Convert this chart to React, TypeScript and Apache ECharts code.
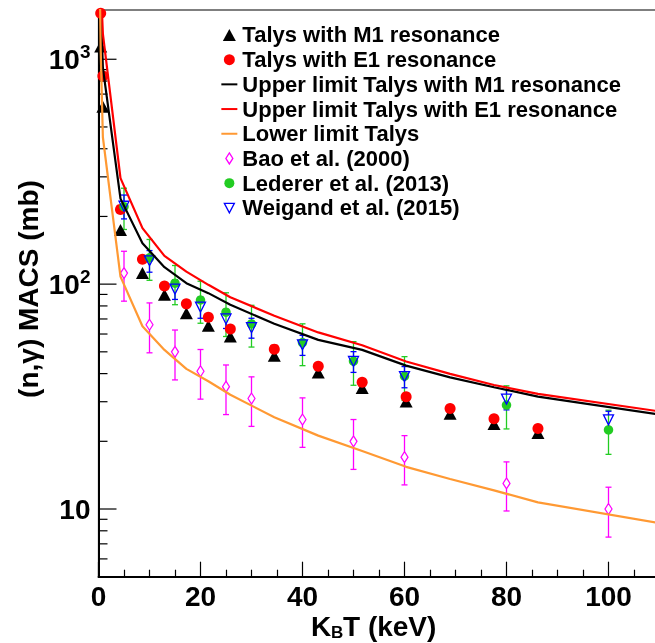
import React, { useEffect, useRef } from 'react';
import * as echarts from 'echarts';

// ---- data ----
const tempKeV = [0.086, 0.43, 0.86, 4.31, 8.62, 12.93, 17.23, 21.54, 25.85, 34.47, 43.09, 51.70, 60.32, 68.94, 77.55, 86.17, 129.26];
const upperM1 = [7000, 1750, 915, 240, 152, 119, 101, 91.2, 80.9, 66.7, 56.5, 51, 43.4, 38.5, 34.8, 31.6, 22.7];
const upperE1 = [10000, 2200, 1298, 296, 177.5, 133.6, 113.7, 99.3, 87.5, 72.3, 61, 53.5, 45.3, 39.9, 35.6, 32.5, 23.5];
const lowerLimit = [4000, 1100, 450, 108, 65, 51, 42, 37, 32.2, 25.6, 21.2, 18.1, 15.4, 13.6, 12.1, 10.7, 7.3];

const talysKeV = [0.43, 0.86, 4.31, 8.62, 12.93, 17.23, 21.54, 25.85, 34.47, 43.09, 51.70, 60.32, 68.94, 77.55, 86.17];
const talysM1 = [1140, 615, 174, 112, 89.6, 74.3, 65.3, 58.5, 48.0, 40.5, 34.5, 30.1, 26.5, 23.9, 21.8];
const talysE1 = [1600, 843, 215, 129, 98.2, 81.7, 71.3, 63.1, 51.4, 43.1, 36.6, 31.6, 28.0, 25.2, 22.8];

const expKeV = [5, 10, 15, 20, 25, 30, 40, 50, 60, 80, 100];
const baoMacs = [112, 66, 50, 41, 35, 31, 25, 20, 17, 13, 10];
const baoErr = [28, 16.5, 12.5, 10.2, 8.7, 7.7, 6.2, 5, 4.2, 3.2, 2.5];
const ledererMacs = [221, 131, 101, 85, 75, 66.5, 55, 45.5, 39, 29, 22.5];
const ledererErr = [46, 27, 20, 18, 16.5, 14, 11.6, 10, 8.6, 6.3, 5];
const weigandMacs = [222, 127, 95, 79, 70, 64, 53.7, 45.3, 38.8, 30.8, 24.9];
const weigandErr = [27, 14, 9.5, 8.5, 6.5, 6.5, 5.5, 4.8, 4.2, 3.2, 2.3];

const yMajorTicks = [10, 100, 1000];
const yMinorTicks = [6, 7, 8, 9, 20, 30, 40, 50, 60, 70, 80, 90, 200, 300, 400, 500, 600, 700, 800, 900];
const xTickLabels = [0, 20, 40, 60, 80, 100];

const NAMES = {
  m1: 'Talys with M1 resonance',
  e1: 'Talys with E1 resonance',
  upM1: 'Upper limit Talys with M1 resonance',
  upE1: 'Upper limit Talys with E1 resonance',
  low: 'Lower limit Talys',
  bao: 'Bao et al. (2000)',
  led: 'Lederer et al. (2013)',
  wei: 'Weigand et al. (2015)',
};

const FONT = '"Liberation Sans", Arial, Helvetica, sans-serif';
const C_BLACK = '#000000';
const C_RED = '#ff0000';
const C_ORANGE = '#ff9933';
const C_PINK = '#ff00ff';
const C_GREEN = '#22cc22';
const C_BLUE = '#0000ff';

const BOX = 'M0,0L0,0M16,12L16,12';
const LINE_ICON = `path://${BOX}M0,5L16,5L16,7L0,7Z`;

const zip = (xs: number[], ys: number[]) => xs.map((x, i) => [x, ys[i]]);
const zip3 = (xs: number[], ys: number[], es: number[]) => xs.map((x, i) => [x, ys[i], es[i]]);

function errorBarSeries(name: string, data: number[][], color: string, gap: number) {
  return {
    type: 'custom',
    name,
    silent: true,
    data,
    renderItem: (params: any, api: any) => {
      const x = api.value(0);
      const y = api.value(1);
      const e = api.value(2);
      const c = api.coord([x, y]);
      const t = api.coord([x, y + e]);
      const b = api.coord([x, y - e]);
      const style = { stroke: color, lineWidth: 1.3 };
      const children: any[] = [];
      if (t[1] < c[1] - gap) {
        children.push({ type: 'line', shape: { x1: c[0], y1: t[1], x2: c[0], y2: c[1] - gap }, style });
      }
      if (b[1] > c[1] + gap) {
        children.push({ type: 'line', shape: { x1: c[0], y1: c[1] + gap, x2: c[0], y2: b[1] }, style });
      }
      children.push({ type: 'line', shape: { x1: c[0] - 3, y1: t[1], x2: c[0] + 3, y2: t[1] }, style });
      children.push({ type: 'line', shape: { x1: c[0] - 3, y1: b[1], x2: c[0] + 3, y2: b[1] }, style });
      return { type: 'group', children };
    },
  };
}

export default function App() {
  const ref = useRef<HTMLDivElement>(null);
  useEffect(() => {
    if (!ref.current) return;
    const chart = echarts.init(ref.current, null, { renderer: 'svg' });
    const lineSeries = (name: string, ys: number[], color: string) => ({
      type: 'line',
      name,
      data: zip(tempKeV, ys),
      symbol: 'none',
      clip: true,
      lineStyle: { color, width: 2.2 },
      itemStyle: { color },
      silent: true,
    });
    const option: any = {
      animation: false,
      grid: {
        left: 98.5,
        top: 10,
        width: 612,
        height: 566.7,
        show: true,
        borderColor: '#555555',
        borderWidth: 1.3,
        backgroundColor: 'transparent',
        outerBoundsMode: 'none',
        containLabel: false,
      },
      xAxis: {
        type: 'value',
        min: 0,
        max: 120,
        interval: 20,
        axisLine: { onZero: false, lineStyle: { color: C_BLACK, width: 2 } },
        axisTick: { inside: true, length: 15, lineStyle: { color: C_BLACK, width: 1.2 } },
        minorTick: { show: true, splitNumber: 4, length: 7, lineStyle: { color: C_BLACK, width: 1.2 } },
        splitLine: { show: false },
        axisLabel: {
          margin: 6,
          fontSize: 28,
          fontWeight: 'bold',
          fontFamily: FONT,
          color: C_BLACK,
          showMaxLabel: false,
          formatter: (v: number) => (xTickLabels.indexOf(v) >= 0 ? String(v) : ''),
        },
      },
      yAxis: {
        type: 'log',
        logBase: 10,
        min: 5,
        max: 1656,
        axisLine: { show: true, onZero: false, lineStyle: { color: C_BLACK, width: 2 } },
        axisTick: { show: false },
        minorTick: { show: false },
        splitLine: { show: false },
        axisLabel: {
          margin: 8,
          formatter: (v: number) => {
            const lg = Math.log10(v);
            const n = Math.round(lg);
            if (Math.abs(lg - n) > 1e-6) return '';
            return n === 1 ? '{b|10}' : `{b|10}{s|${n}}`;
          },
          rich: {
            b: { fontSize: 28, fontWeight: 'bold', fontFamily: FONT, color: C_BLACK },
            s: { fontSize: 19, fontWeight: 'bold', fontFamily: FONT, color: C_BLACK, padding: [0, 0, 16, 0] },
          },
        },
      },
      legend: {
        orient: 'vertical',
        left: 220.7,
        top: 22.6,
        padding: 0,
        itemGap: 0,
        itemWidth: 16,
        itemHeight: 12,
        selectedMode: false,
        textStyle: { fontSize: 22, fontWeight: 'bold', fontFamily: FONT, color: C_BLACK, lineHeight: 24.7 },
        data: [
          { name: NAMES.m1, icon: `path://${BOX}M1.5,12L14.5,12L8,0Z`, itemStyle: { color: C_BLACK, opacity: 1 } },
          { name: NAMES.e1, icon: `path://${BOX}M2.5,6A5.5,5.5,0,1,1,13.5,6A5.5,5.5,0,1,1,2.5,6Z`, itemStyle: { color: C_RED, opacity: 1 } },
          { name: NAMES.upM1, icon: LINE_ICON, itemStyle: { color: C_BLACK, borderWidth: 0, opacity: 1 } },
          { name: NAMES.upE1, icon: LINE_ICON, itemStyle: { color: C_RED, borderWidth: 0, opacity: 1 } },
          { name: NAMES.low, icon: LINE_ICON, itemStyle: { color: C_ORANGE, borderWidth: 0, opacity: 1 } },
          { name: NAMES.bao, icon: `path://${BOX}M8,0.5L11.5,6L8,11.5L4.5,6Z`, itemStyle: { color: 'rgba(0,0,0,0)', borderColor: C_PINK, borderWidth: 1.3, opacity: 1 } },
          { name: NAMES.led, icon: `path://${BOX}M3,6A5,5,0,1,1,13,6A5,5,0,1,1,3,6Z`, itemStyle: { color: C_GREEN, opacity: 1 } },
          { name: NAMES.wei, icon: `path://${BOX}M3,1.5L13,1.5L8,11Z`, itemStyle: { color: 'rgba(0,0,0,0)', borderColor: C_BLUE, borderWidth: 1.3, opacity: 1 } },
        ],
      },
      graphic: [
        {
          type: 'text',
          x: 28,
          y: 289,
          rotation: Math.PI / 2,
          style: { text: '(n,γ) MACS (mb)', fontSize: 28, fontWeight: 'bold', fontFamily: FONT, fill: C_BLACK, align: 'center', verticalAlign: 'middle' },
        },
        {
          type: 'text',
          x: 311,
          y: 626,
          style: { text: 'K', fontSize: 28, fontWeight: 'bold', fontFamily: FONT, fill: C_BLACK, align: 'left', verticalAlign: 'middle' },
        },
        {
          type: 'text',
          x: 331,
          y: 632,
          style: { text: 'B', fontSize: 17, fontWeight: 'bold', fontFamily: FONT, fill: C_BLACK, align: 'left', verticalAlign: 'middle' },
        },
        {
          type: 'text',
          x: 343,
          y: 626,
          style: { text: 'T (keV)', fontSize: 28, fontWeight: 'bold', fontFamily: FONT, fill: C_BLACK, align: 'left', verticalAlign: 'middle' },
        },
      ],
      series: [
        {
          type: 'custom',
          name: 'yTicks',
          silent: true,
          data: [...yMajorTicks, ...yMinorTicks].map((v) => [0, v]),
          renderItem: (params: any, api: any) => {
            const v = api.value(1);
            const p = api.coord([0, v]);
            const len = yMajorTicks.indexOf(v) >= 0 ? 18 : 9;
            return { type: 'line', shape: { x1: p[0], y1: p[1], x2: p[0] + len, y2: p[1] }, style: { stroke: C_BLACK, lineWidth: 1.2 } };
          },
        },
        lineSeries(NAMES.upM1, upperM1, C_BLACK),
        lineSeries(NAMES.upE1, upperE1, C_RED),
        lineSeries(NAMES.low, lowerLimit, C_ORANGE),
        errorBarSeries('Bao errors', zip3(expKeV, baoMacs, baoErr), C_PINK, 5.5),
        {
          type: 'scatter',
          name: NAMES.bao,
          data: zip(expKeV, baoMacs),
          symbol: 'diamond',
          symbolSize: [7, 11],
          itemStyle: { color: 'rgba(0,0,0,0)', borderColor: C_PINK, borderWidth: 1.3, opacity: 1 },
          silent: true,
        },
        {
          type: 'scatter',
          name: NAMES.m1,
          data: zip(talysKeV, talysM1),
          symbol: 'triangle',
          symbolSize: [13, 12],
          itemStyle: { color: C_BLACK, opacity: 1 },
          silent: true,
        },
        {
          type: 'scatter',
          name: NAMES.e1,
          data: zip(talysKeV, talysE1),
          symbol: 'circle',
          symbolSize: 11,
          itemStyle: { color: C_RED, opacity: 1 },
          silent: true,
        },
        errorBarSeries('Lederer errors', zip3(expKeV, ledererMacs, ledererErr), C_GREEN, 0),
        {
          type: 'scatter',
          name: NAMES.led,
          data: zip(expKeV, ledererMacs),
          symbol: 'circle',
          symbolSize: 9.5,
          itemStyle: { color: C_GREEN, opacity: 1 },
          silent: true,
        },
        errorBarSeries('Weigand errors', zip3(expKeV, weigandMacs, weigandErr), C_BLUE, 5),
        {
          type: 'scatter',
          name: NAMES.wei,
          data: zip(expKeV, weigandMacs),
          symbol: 'triangle',
          symbolRotate: 180,
          symbolSize: [10, 10],
          itemStyle: { color: 'rgba(0,0,0,0)', borderColor: C_BLUE, borderWidth: 1.3, opacity: 1 },
          silent: true,
        },
      ],
    };
    chart.setOption(option);
    return () => chart.dispose();
  }, []);
  return <div ref={ref} style={{ position: 'fixed', left: 0, top: 0, width: 655, height: 643 }} />;
}
